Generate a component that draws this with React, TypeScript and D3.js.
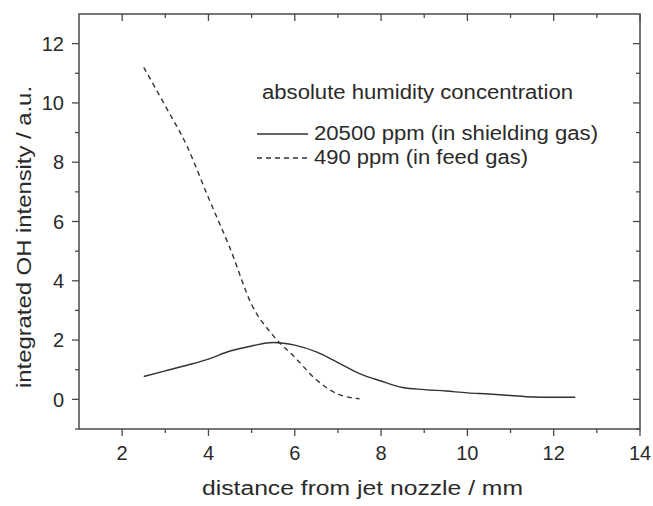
import React from 'react';
import * as d3 from 'd3';

// distance from jet nozzle (mm)
const shieldX = [2.5, 3, 3.5, 4, 4.5, 5, 5.5, 6, 6.5, 7, 7.5, 8, 8.5, 9, 9.5, 10, 10.5, 11, 11.5, 12, 12.5];
const shieldY = [0.77, 0.96, 1.15, 1.36, 1.63, 1.8, 1.92, 1.83, 1.6, 1.24, 0.87, 0.62, 0.4, 0.33, 0.28, 0.22, 0.18, 0.13, 0.08, 0.07, 0.07];

const feedX = [2.5, 3, 3.5, 4, 4.5, 5, 5.5, 6, 6.5, 7, 7.5];
const feedY = [11.2, 9.9, 8.55, 6.8, 5.1, 3.2, 2.15, 1.42, 0.66, 0.18, 0.02];

const xTicks = [2, 4, 6, 8, 10, 12, 14];
const xMinor = [3, 5, 7, 9, 11, 13];
const yTicks = [0, 2, 4, 6, 8, 10, 12];
const yMinor = [-1, 1, 3, 5, 7, 9, 11];

const legendTitle = 'absolute humidity concentration';
const seriesNames = ['20500 ppm (in shielding gas)', '490 ppm (in feed gas)'];

const W = 653;
const H = 506;
const M = { left: 79, right: 13, top: 14, bottom: 77 };
const FONT = '"Liberation Sans", Arial, sans-serif';
const AXIS = '#4a4a4a';
const INK = '#333';
const TXT = '#2a2a2a';

export default function App() {
  const x = d3.scaleLinear().domain([1, 14]).range([M.left, W - M.right]);
  const y = d3.scaleLinear().domain([-1, 13]).range([H - M.bottom, M.top]);

  const line = d3.line<[number, number]>()
    .x(d => x(d[0]))
    .y(d => y(d[1]))
    .curve(d3.curveMonotoneX);

  const shield = shieldX.map((v, i) => [v, shieldY[i]] as [number, number]);
  const feed = feedX.map((v, i) => [v, feedY[i]] as [number, number]);

  const x0 = x.range()[0], x1 = x.range()[1];
  const y0 = y.range()[0], y1 = y.range()[1];
  const major = 7, minor = 4;

  return (
    <svg width={W} height={H} style={{ position: 'absolute', left: 0, top: 0, background: '#fff' }}
      fontFamily={FONT}>
      <rect x={0} y={0} width={W} height={H} fill="#fff" />

      {/* data */}
      <path d={line(shield) || ''} fill="none" stroke={INK} strokeWidth={1.4} />
      <path d={line(feed) || ''} fill="none" stroke={INK} strokeWidth={1.4} strokeDasharray="5,4" />

      {/* frame */}
      <rect x={x0} y={y1} width={x1 - x0} height={y0 - y1} fill="none" stroke={AXIS} strokeWidth={1.5} />

      {/* x ticks */}
      {xTicks.map(t => (
        <g key={'xt' + t}>
          <line x1={x(t)} x2={x(t)} y1={y0} y2={y0 + major} stroke={AXIS} strokeWidth={1.3} />
          <line x1={x(t)} x2={x(t)} y1={y1} y2={y1 + major} stroke={AXIS} strokeWidth={1.3} />
          <text x={x(t)} y={460} textAnchor="middle" fontSize={20} fill={TXT}>{t}</text>
        </g>
      ))}
      {xMinor.map(t => (
        <g key={'xm' + t}>
          <line x1={x(t)} x2={x(t)} y1={y0} y2={y0 + minor} stroke={AXIS} strokeWidth={1.3} />
          <line x1={x(t)} x2={x(t)} y1={y1} y2={y1 + minor} stroke={AXIS} strokeWidth={1.3} />
        </g>
      ))}

      {/* y ticks */}
      {yTicks.map(t => (
        <g key={'yt' + t}>
          <line x1={x0 - major} x2={x0} y1={y(t)} y2={y(t)} stroke={AXIS} strokeWidth={1.3} />
          <line x1={x1 - major} x2={x1} y1={y(t)} y2={y(t)} stroke={AXIS} strokeWidth={1.3} />
          <text x={64} y={y(t)} dy="0.36em" textAnchor="end" fontSize={20} fill={TXT}>{t}</text>
        </g>
      ))}
      {yMinor.map(t => (
        <g key={'ym' + t}>
          <line x1={x0 - minor} x2={x0} y1={y(t)} y2={y(t)} stroke={AXIS} strokeWidth={1.3} />
          <line x1={x1 - minor} x2={x1} y1={y(t)} y2={y(t)} stroke={AXIS} strokeWidth={1.3} />
        </g>
      ))}

      {/* axis titles */}
      <text x={202} y={495} fontSize={20} fill={TXT} textLength={321} lengthAdjust="spacingAndGlyphs">
        distance from jet nozzle / mm
      </text>
      <text transform="translate(31,388) rotate(-90)" fontSize={20} fill={TXT}
        textLength={302} lengthAdjust="spacingAndGlyphs">
        integrated OH intensity / a.u.
      </text>

      {/* legend */}
      <text x={262} y={99} fontSize={20} fill={TXT} textLength={311} lengthAdjust="spacingAndGlyphs">{legendTitle}</text>
      <line x1={257} x2={308} y1={134} y2={134} stroke={INK} strokeWidth={1.4} />
      <text x={314} y={140} fontSize={20} fill={TXT} textLength={284} lengthAdjust="spacingAndGlyphs">{seriesNames[0]}</text>
      <line x1={257} x2={308} y1={158} y2={158} stroke={INK} strokeWidth={1.4} strokeDasharray="5,4" />
      <text x={314} y={164} fontSize={20} fill={TXT} textLength={214} lengthAdjust="spacingAndGlyphs">{seriesNames[1]}</text>
    </svg>
  );
}
